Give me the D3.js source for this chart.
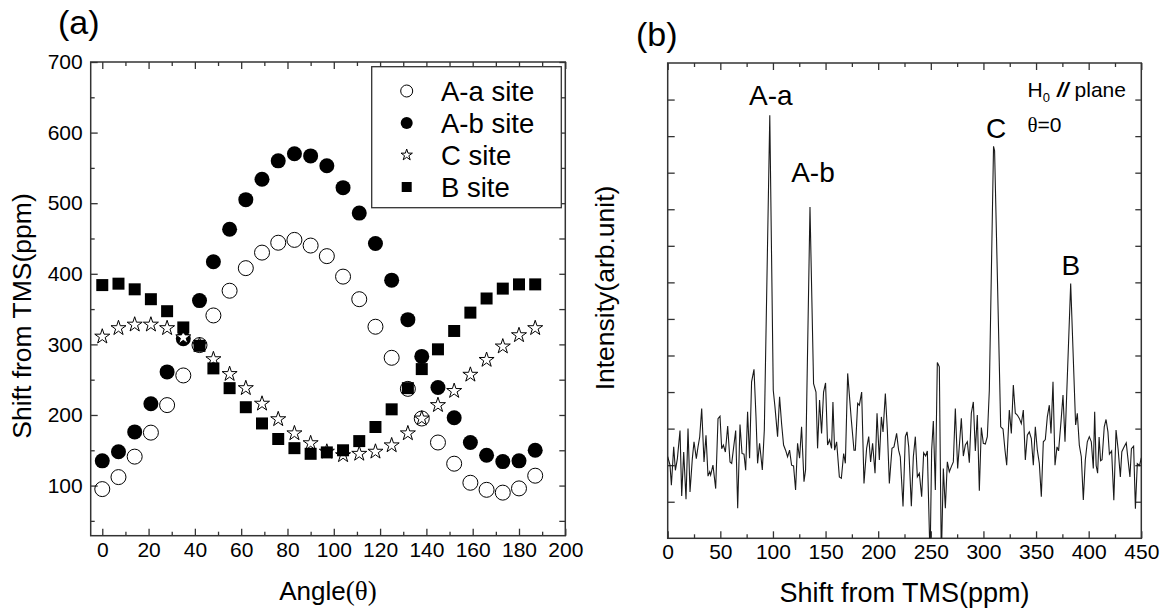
<!DOCTYPE html>
<html>
<head>
<meta charset="utf-8">
<script src="https://d3js.org/d3.v7.min.js"></script>
<style>
  body { margin: 0; background: #fff; }
  svg text { font-family: "Liberation Sans", Arial, sans-serif; fill: #000; }
  .serif { font-family: "Liberation Serif", "Times New Roman", serif; }
</style>
</head>
<body>
<svg id="chart" width="1166" height="612" style="background:#fff"></svg>
<script>
// ---- panel (a): shift vs angle ----
const angles = [0, 7, 14, 21, 28, 35, 42, 48, 55, 62, 69, 76, 83, 90, 97, 104, 111, 118, 125, 132, 138, 145, 152, 159, 166, 173, 180, 187];
const siteAa = [95, 112, 141, 175, 214, 256, 299, 341, 376, 408, 430, 444, 448, 440, 425, 396, 364, 325, 281, 237, 195, 161, 131, 104, 94, 90, 96, 114];
const siteAb = [135, 148, 176, 216, 261, 308, 362, 417, 463, 505, 534, 560, 570, 567, 553, 522, 486, 443, 391, 335, 283, 239, 196, 161, 143, 134, 135, 150];
const siteC  = [311, 323, 328, 328, 323, 310, 299, 279, 258, 238, 216, 194, 174, 160, 148, 143, 145, 148, 157, 174, 195, 214, 234, 257, 278, 297, 313, 323];
const siteB  = [384, 386, 378, 364, 347, 324, 298, 266, 238, 211, 188, 166, 153, 145, 147, 150, 163, 183, 208, 238, 265, 293, 319, 345, 365, 379, 385, 385];
const seriesNames = ["A-a site", "A-b site", "C site", "B site"];
const angleTicks = d3.range(0, 201, 20);
const shiftTicks = d3.range(100, 701, 100);

// ---- panel (b): spectrum, theta = 0 ----
const shiftPpm = [0,2.2,3.5,5.7,7.3,9.2,11.7,13.3,15.2,17.4,19.3,21.2,23.4,25,27.2,28.8,30.4,32.3,34.5,36.4,38.3,39.9,40.8,43,45.6,47.8,49.7,51.3,52.9,54.8,57,59.2,60.8,62.7,64.6,66.5,68.7,70.6,72.5,74.1,
  75.9,77.8,79.7,82,83.9,85.4,87.3,89.9,91.8,97,100.3,101.9,104.4,106.3,108.2,110.1,112,113.9,115.8,117.7,119.6,121.5,123.4,125.3,127.2,129.5,131,135.2,138.6,140.9,142.4,144.3,146.2,148.1,150,151.9,153.8,155.7,
  157,158.6,160.5,163.1,165,167.2,168.8,171,174.5,177,178.3,180.5,182.1,184.3,186.5,189,191,192.8,194.7,197,198.9,201.1,203,204.6,206.8,208.7,210.6,213.1,215,217.5,219.4,221,223.6,225.8,227.4,229,231.5,233.4,235.3,237.2,239.1,
  241.3,243.2,245.1,246.7,249.3,250.8,252.4,254.3,256.2,258.1,260,261.9,263.8,265.7,267.6,269.5,271.4,273.3,275.5,277.4,279,280.9,282.8,284.7,286.6,288.5,290.4,292.3,294.2,296.1,298,299.9,301.8,303.7,305.6,309.6,310.6,316.4,318.6,320.5,322.1,
  324.6,326.5,328.4,330.3,332.2,334.1,336,337.9,339.8,341.7,343.6,345.5,347.4,349.3,351.2,353.1,355,356.9,358.8,360.7,362.6,364.2,366.1,368,369.9,371.4,373.7,375.6,377.5,382.9,387.6,389.2,391.1,393,394.9,396.8,398.7,400.6,402.5,404.4,
  405.7,407.1,408.5,409.9,411.3,412.7,414.8,416.5,418.3,419.7,421.8,423.9,426,428,430.1,431.5,433.6,435.7,437.1,439.2,440.6,442.7,444.4,446.2,448.3,450];
const intensity = [2.23,2.0,1.45,2.5,1.86,2.18,2.95,1.16,2.36,1.07,3.0,1.27,2.18,2.64,2.18,2.5,2.77,3.55,2.09,2.82,1.7,1.82,1.73,2.0,1.36,3.27,3.34,2.45,2.55,2.36,3.07,2.09,2.05,2.5,2.95,0.82,3.11,2.32,2.3,1.86,
  3.46,2.19,4.28,4.62,3.32,2.05,2.6,1.87,2.96,11.57,4.05,3.6,2.78,3.87,3.14,2.55,2.41,2.23,2.41,2.0,1.98,1.32,2.6,2.19,3.05,1.55,1.87,9.06,4.23,4.0,2.46,3.78,2.87,4.0,4.25,2.55,2.69,2.46,
  3.73,2.41,2.64,1.68,1.64,2.32,2.05,4.51,3.23,2.41,2.41,3.69,3.64,4.0,1.5,2.46,2.78,2.09,2.6,1.78,3.42,2.14,3.32,2.91,3.96,2.96,1.5,2.46,2.5,2.87,2.41,2.23,0.87,2.78,2.91,2.5,0.88,2.23,2.78,1.68,1.78,
  1.14,2.34,2.25,2.39,-0.6,2.41,3.21,1.32,4.81,4.69,-0.6,1.91,0.82,2.09,1.82,1.96,2.09,3.55,1.91,2.64,3.28,2.25,2.55,2.64,2.07,3.42,3.73,2.39,3.37,1.3,3.03,2.6,2.58,2.78,4.05,10.72,10.6,3.05,2.99,2.41,2.0,
  3.51,2.87,4.19,3.42,3.37,3.28,3.14,3.51,2.14,2.82,2.91,2.73,2.0,3.05,2.41,2.05,1.14,2.64,2.7,3.32,3.64,2.87,4.28,2.0,2.5,2.39,3.19,3.92,2.64,6.97,3.1,3.42,2.55,2.23,1.05,2.14,2.64,2.78,2.64,1.91,
  3.46,1.99,1.78,2.77,2.12,2.15,3.05,3.25,2.91,2.3,2.39,1.04,2.96,2.43,1.68,2.37,2.5,2.61,2.23,1.68,2.45,2.52,0.81,2.04,1.99,2.2];
const peakNames = ["A-a", "A-b", "C", "B"];
const peakLabelPpm = [98, 138, 312, 383];
const peakLabelLevel = [11.86, 9.74, 10.94, 7.2];
const ppmTicks = d3.range(0, 451, 50);

const svg = d3.select("#chart");
const ink = "#333";

// frame with inward ticks on all four sides
function frame(g, x, y, xMajor, xMinor, yMajor, yMinor, yRight, showY) {
  const [x0, x1] = x.range(), [y0, y1] = y.range();
  const fix = a => a.call(s => s.select(".domain").remove())
    .call(s => s.selectAll("line").attr("stroke", ink).attr("stroke-width", 1.3))
    .call(s => s.selectAll("text").attr("font-size", 21).attr("font-family", null).attr("fill", "#000"));

  g.append("g").attr("transform", `translate(0,${y0})`)
    .call(d3.axisBottom(x).tickValues(xMajor).tickSize(-7).tickPadding(6).tickFormat(d3.format("d"))).call(fix);
  g.append("g").attr("transform", `translate(0,${y0})`)
    .call(d3.axisBottom(x).tickValues(xMinor).tickSize(-4).tickFormat("")).call(fix);
  g.append("g").attr("transform", `translate(0,${y1})`)
    .call(d3.axisTop(x).tickValues(xMajor).tickSize(-7).tickFormat("")).call(fix);
  g.append("g").attr("transform", `translate(0,${y1})`)
    .call(d3.axisTop(x).tickValues(xMinor).tickSize(-4).tickFormat("")).call(fix);

  g.append("g").attr("transform", `translate(${x0},0)`)
    .call(d3.axisLeft(y).tickValues(yMajor).tickSize(-7).tickPadding(8)
      .tickFormat(showY ? d3.format("d") : "")).call(fix);
  if (yMinor.length)
    g.append("g").attr("transform", `translate(${x0},0)`)
      .call(d3.axisLeft(y).tickValues(yMinor).tickSize(-4).tickFormat("")).call(fix);
  g.append("g").attr("transform", `translate(${x1},0)`)
    .call(d3.axisRight(y).tickValues(yRight).tickSize(-6).tickFormat("")).call(fix);

  g.append("rect").attr("x", x0).attr("y", y1).attr("width", x1 - x0).attr("height", y0 - y1)
    .attr("fill", "none").attr("stroke", ink).attr("stroke-width", 1.5);
}

// ================= panel (a) =================
const xa = d3.scaleLinear().domain([-5, 200]).range([90.7, 565.3]);
const ya = d3.scaleLinear().domain([29, 700]).range([535.7, 62]);
const ga = svg.append("g");

frame(ga, xa, ya, angleTicks, d3.range(10, 200, 20), shiftTicks, d3.range(50, 700, 100),
  d3.range(50, 701, 50), true);

const symCircle = d3.symbol().type(d3.symbolCircle).size(Math.PI * 7.5 * 7.5);
const symStar = d3.symbol().type(d3.symbolStar).size(70);
const symSquare = d3.symbol().type(d3.symbolSquare).size(144);

const styles = [
  { vals: siteAa, sym: symCircle, fill: "none", stroke: "#000" },
  { vals: siteAb, sym: symCircle, fill: "#000", stroke: "none" },
  { vals: siteC,  sym: symStar,   fill: "#fff", stroke: "#000" },
  { vals: siteB,  sym: symSquare, fill: "#000", stroke: "none" }
];
styles.forEach(s => {
  ga.append("g").selectAll("path").data(angles.map((a, i) => [a, s.vals[i]])).join("path")
    .attr("transform", d => `translate(${xa(d[0])},${ya(d[1])})`)
    .attr("d", s.sym).attr("fill", s.fill).attr("stroke", s.stroke).attr("stroke-width", 1);
});

// legend
const lg = ga.append("g");
lg.append("rect").attr("x", 371.7).attr("y", 66.7).attr("width", 189.6).attr("height", 141)
  .attr("fill", "#fff").attr("stroke", ink).attr("stroke-width", 1.3);
const legSyms = [
  d3.symbol().type(d3.symbolCircle).size(Math.PI * 36),
  d3.symbol().type(d3.symbolCircle).size(Math.PI * 36),
  d3.symbol().type(d3.symbolStar).size(40),
  d3.symbol().type(d3.symbolSquare).size(100)
];
seriesNames.forEach((name, i) => {
  const yy = 91 + i * 32;
  lg.append("path").attr("transform", `translate(406.7,${yy})`).attr("d", legSyms[i])
    .attr("fill", styles[i].fill === "none" ? "#fff" : styles[i].fill)
    .attr("stroke", styles[i].stroke).attr("stroke-width", 1);
  lg.append("text").attr("x", 441).attr("y", yy).attr("dy", "0.36em")
    .attr("font-size", 27.5).text(name);
});

ga.append("text").attr("x", 58).attr("y", 34).attr("font-size", 34).text("(a)");
const ta = ga.append("text").attr("x", (xa.range()[0] + xa.range()[1]) / 2).attr("y", 600)
  .attr("text-anchor", "middle").attr("font-size", 26);
ta.append("tspan").text("Angle");
ta.append("tspan").attr("class", "serif").attr("font-size", 27).text("(θ)");
ga.append("text").attr("transform", "translate(31,316) rotate(-90)")
  .attr("text-anchor", "middle").attr("font-size", 26.5).text("Shift from TMS(ppm)");

// ================= panel (b) =================
const xb = d3.scaleLinear().domain([0, 450]).range([667.7, 1141.3]);
const yb = d3.scaleLinear().domain([0, 13]).range([538.3, 63]);
const gb = svg.append("g");

frame(gb, xb, yb, ppmTicks, d3.range(25, 450, 50), d3.range(1, 13), [], d3.range(1, 13), false);

svg.append("clipPath").attr("id", "clipb").append("rect")
  .attr("x", 667.7).attr("y", 63).attr("width", 1141.3 - 667.7).attr("height", 538.3 - 63);

gb.append("path")
  .attr("clip-path", "url(#clipb)")
  .attr("d", d3.line().x((d, i) => xb(shiftPpm[i])).y(d => yb(d))(intensity))
  .attr("fill", "none").attr("stroke", "#1a1a1a").attr("stroke-width", 1.1);

peakNames.forEach((n, i) => {
  gb.append("text").attr("x", xb(peakLabelPpm[i])).attr("y", yb(peakLabelLevel[i]))
    .attr("text-anchor", "middle").attr("font-size", 28).text(n);
});

const h0 = gb.append("text").attr("x", 1027.5).attr("y", 97).attr("font-size", 21);
h0.append("tspan").text("H");
h0.append("tspan").attr("font-size", 13).attr("dy", 5).text("0");
h0.append("tspan").attr("dy", -5).attr("dx", 7).attr("font-style", "italic").attr("font-weight", "bold").text("//");
h0.append("tspan").attr("dx", 6).text("plane");
const th = gb.append("text").attr("x", 1027.5).attr("y", 132).attr("font-size", 21);
th.append("tspan").attr("class", "serif").text("θ");
th.append("tspan").text("=0");

gb.append("text").attr("x", 636).attr("y", 46).attr("font-size", 34).text("(b)");
gb.append("text").attr("x", (xb.range()[0] + xb.range()[1]) / 2).attr("y", 602)
  .attr("text-anchor", "middle").attr("font-size", 27).text("Shift from TMS(ppm)");
gb.append("text").attr("transform", "translate(614,288) rotate(-90)")
  .attr("text-anchor", "middle").attr("font-size", 26.5).text("Intensity(arb.unit)");
</script>
</body>
</html>
